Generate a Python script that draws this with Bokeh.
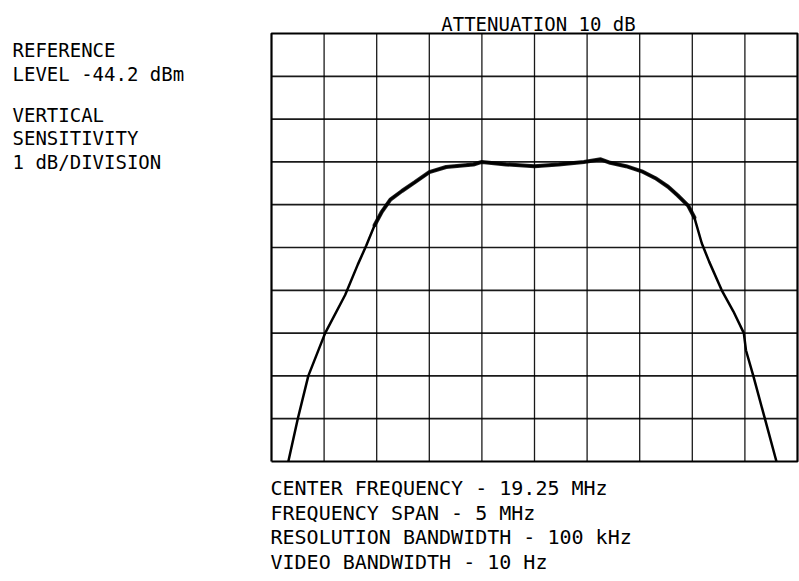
import numpy as np
from bokeh.plotting import figure
from bokeh.models import Range1d
from bokeh.core.properties import value
from bokeh.embed import file_html
from bokeh.resources import INLINE

# ---- data ----
center_mhz = 19.25
span_mhz = 5.0
ref_level = -44.2
db_per_div = 1.0
n_div = 10

freq_mhz = [16.91, 17.00, 17.10, 17.26, 17.45, 17.57, 17.65, 17.73, 17.80, 17.88,
            17.99, 18.11, 18.25, 18.41, 18.67, 18.75, 18.98, 19.25, 19.48, 19.72,
            19.88, 19.97, 20.12, 20.27, 20.40, 20.52, 20.61, 20.71, 20.77, 20.84,
            20.91, 21.03, 21.14, 21.24, 21.26, 21.33, 21.44, 21.55]
level_dbm = [-54.20, -53.20, -52.20, -51.20, -50.31, -49.60, -49.16, -48.68, -48.36, -48.08,
             -47.88, -47.68, -47.44, -47.32, -47.26, -47.20, -47.26, -47.30, -47.26, -47.20,
             -47.14, -47.22, -47.30, -47.42, -47.58, -47.78, -47.98, -48.22, -48.50, -49.10,
             -49.53, -50.20, -50.69, -51.20, -51.60, -52.20, -53.20, -54.20]

title_text = "ATTENUATION 10 dB"
left_lines = ["REFERENCE", "LEVEL -44.2 dBm", "VERTICAL", "SENSITIVITY", "1 dB/DIVISION"]
bottom_lines = ["CENTER FREQUENCY - 19.25 MHz", "FREQUENCY SPAN - 5 MHz",
                "RESOLUTION BANDWIDTH - 100 kHz", "VIDEO BANDWIDTH - 10 Hz"]

# ---- layout (pixels of the screen graticule) ----
W, H = 799, 581
GL, GR, GT, GB = 271, 797, 33, 461

x0 = center_mhz - span_mhz / 2
x1 = center_mhz + span_mhz / 2
y1 = ref_level
y0 = ref_level - n_div * db_per_div

sx = (x1 - x0) / (GR - GL)
sy = (y1 - y0) / (GB - GT)


def dx(px):
    return x0 + (px - GL) * sx


def dy(py):
    return y1 - (py - GT) * sy


p = figure(width=W, height=H, output_backend="svg", toolbar_location=None,
           x_axis_location=None, y_axis_location=None,
           x_range=Range1d(dx(0), dx(W)), y_range=Range1d(dy(H), dy(0)),
           min_border=0)
p.grid.visible = False
p.background_fill_color = "white"
p.border_fill_color = "white"
p.outline_line_color = None

# graticule
xg = list(np.linspace(x0, x1, n_div + 1))
yg = list(np.linspace(y0, y1, n_div + 1))
p.segment(x0=xg[1:-1], y0=[y0] * (n_div - 1), x1=xg[1:-1], y1=[y1] * (n_div - 1),
          line_color="black", line_width=1.3, line_alpha=0.9)
p.segment(x0=[x0] * (n_div - 1), y0=yg[1:-1], x1=[x1] * (n_div - 1), y1=yg[1:-1],
          line_color="black", line_width=1.7, line_alpha=0.9)
p.line([x0, x1, x1, x0, x0], [y0, y0, y1, y1, y0], line_color="black", line_width=2.2)

# trace
p.line(freq_mhz, level_dbm, line_color="black", line_width=2.5)
p.line(freq_mhz[7:29], level_dbm[7:29], line_color="black", line_width=4.0, line_alpha=0.85,
       line_cap="round")

font = value("DejaVu Sans Mono")
p.text(x=[dx(538)], y=[dy(23)], text=[title_text], text_font=font, text_font_size="19px",
       text_align="center", text_baseline="alphabetic", text_color="black")

left_base = [49, 73, 114, 137, 161]
p.text(x=[dx(12)] * len(left_lines), y=[dy(b) for b in left_base], text=left_lines,
       text_font=font, text_font_size="19px", text_align="left",
       text_baseline="alphabetic", text_color="black")

bottom_base = [487, 512, 536, 561]
p.text(x=[dx(270)] * len(bottom_lines), y=[dy(b) for b in bottom_base], text=bottom_lines,
       text_font=font, text_font_size="20px", text_align="left",
       text_baseline="alphabetic", text_color="black")

open("out.html", "w").write(file_html(p, INLINE))
